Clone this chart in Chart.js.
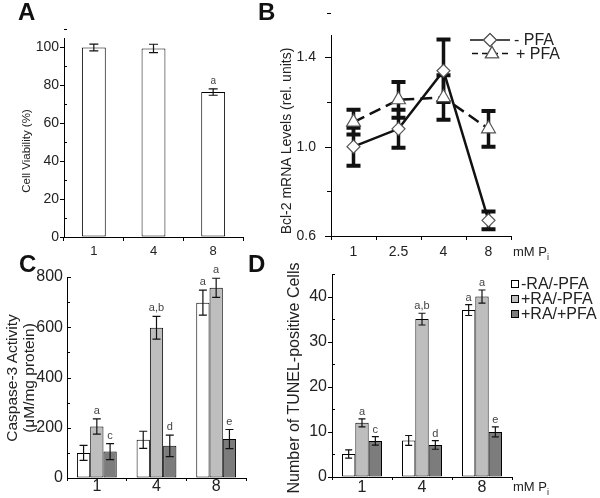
<!DOCTYPE html>
<html>
<head>
<meta charset="utf-8">
<script src="https://cdn.jsdelivr.net/npm/chart.js@4.4.1/dist/chart.umd.min.js"></script>
<style>
  html, body { margin: 0; padding: 0; background: #fff; }
  #wrap { position: relative; width: 600px; height: 498px; overflow: hidden; font-family: "Liberation Sans", Arial, sans-serif; color: #222; }
  canvas { position: absolute; left: 0; top: 0; }
  .t { position: absolute; white-space: nowrap; line-height: 1; }
  .letter { font-weight: bold; font-size: 24px; color: #111; }
  .ytitle { transform: translate(-50%, -50%) rotate(-90deg); text-align: center; }
  .box { display: inline-block; width: 6px; height: 6px; border: 1px solid #000; margin-right: 2px; vertical-align: 1px; }
</style>
</head>
<body>
<div id="wrap">
  <canvas id="cA" width="600" height="498"></canvas>
  <canvas id="cB" width="600" height="498"></canvas>
  <canvas id="cC" width="600" height="498"></canvas>
  <canvas id="cD" width="600" height="498"></canvas>

  <div class="t letter" style="left:18px;top:0px;">A</div>
  <div class="t letter" style="left:258px;top:0px;">B</div>
  <div class="t letter" style="left:19px;top:252px;">C</div>
  <div class="t letter" style="left:248px;top:252px;">D</div>

  <div class="t ytitle" style="left:27px;top:151px;font-size:11.5px;">Cell Viability (%)</div>
  <div class="t ytitle" style="left:286px;top:141px;font-size:14px;">Bcl-2 mRNA Levels (rel. units)</div>
  <div class="t ytitle" style="left:20px;top:378px;font-size:15.5px;line-height:17px;">Caspase-3 Activity<br>(μM/mg protein)</div>
  <div class="t ytitle" style="left:294px;top:378px;font-size:16px;">Number of TUNEL-positive Cells</div>

  <div class="t" style="left:513px;top:245px;font-size:13px;">mM P<span style="font-size:9px;position:relative;top:4px;">i</span></div>
  <div class="t" style="left:513px;top:480px;font-size:13px;">mM P<span style="font-size:9px;position:relative;top:4px;">i</span></div>

  <div class="t" style="left:514px;top:32px;font-size:16px;">- PFA</div>
  <div class="t" style="left:516px;top:46px;font-size:16px;">+ PFA</div>

  <div class="t" style="left:511px;top:276px;font-size:16px;"><span class="box" style="background:#fff"></span>-RA/-PFA</div>
  <div class="t" style="left:511px;top:291px;font-size:16px;"><span class="box" style="background:#bebebe"></span>+RA/-PFA</div>
  <div class="t" style="left:511px;top:306px;font-size:16px;"><span class="box" style="background:#7c7c7c"></span>+RA/+PFA</div>
</div>
<script>
// ---------------- DATA ----------------
// Panel A: cell viability
const aCategories = ['1', '4', '8'];
const aViability = [100, 99.5, 76.5];
const aViabilityErr = [1.8, 2.2, 1.7];
const aLetters = ['', '', 'a'];

// Panel B: Bcl-2 mRNA levels
const bCategories = ['1', '2.5', '4', '8'];
const bMinusPFA = [1.00, 1.08, 1.34, 0.67];
const bMinusPFAErr = [0.085, 0.085, 0.14, 0.04];
const bPlusPFA = [1.11, 1.21, 1.22, 1.08];
const bPlusPFAErr = [0.055, 0.08, 0.10, 0.08];
const bSeriesNames = ['- PFA', '+ PFA'];
const bTickLabels = ['0.6', '', '1.0', '', '1.4'];

// Panel C: caspase-3 activity
const cCategories = ['1', '4', '8'];
const cSeriesNames = ['-RA/-PFA', '+RA/-PFA', '+RA/+PFA'];
const cNoRANoPFA = [100, 152, 698];
const cNoRANoPFAErr = [30, 34, 50];
const cRANoPFA = [205, 598, 757];
const cRANoPFAErr = [30, 45, 38];
const cRAPFA = [105, 128, 155];
const cRAPFAErr = [32, 43, 38];
const cLettersNoRANoPFA = ['', '', 'a'];
const cLettersRANoPFA = ['a', 'a,b', 'a'];
const cLettersRAPFA = ['c', 'd', 'e'];

// Panel D: TUNEL-positive cells
const dCategories = ['1', '4', '8'];
const dNoRANoPFA = [5.1, 8.1, 37];
const dNoRANoPFAErr = [0.9, 1.1, 1.2];
const dRANoPFA = [12, 35, 40];
const dRANoPFAErr = [0.9, 1.3, 1.45];
const dRAPFA = [8, 7.1, 10];
const dRAPFAErr = [0.95, 0.95, 1.1];
const dLettersNoRANoPFA = ['', '', 'a'];
const dLettersRANoPFA = ['a', 'a,b', 'a'];
const dLettersRAPFA = ['c', 'd', 'e'];

// ---------------- STYLE ----------------
Chart.defaults.font.family = '"Liberation Sans", Arial, sans-serif';
Chart.defaults.color = '#222';
const WHITE = '#ffffff', LIGHT = '#bebebe', DARK = '#7c7c7c';

function drawErrorBars(chart, o) {
  const ctx = chart.ctx, ys = chart.scales.y;
  chart.data.datasets.forEach((ds, i) => {
    if (!ds.errors) return;
    const meta = chart.getDatasetMeta(i);
    meta.data.forEach((el, j) => {
      const v = ds.data[j], e = ds.errors[j];
      const x = el.x;
      const yT = ys.getPixelForValue(v + e), yB = ys.getPixelForValue(v - e);
      ctx.save();
      ctx.strokeStyle = o.color || '#111';
      ctx.lineWidth = o.width || 1.2;
      ctx.beginPath(); ctx.moveTo(x, yT); ctx.lineTo(x, yB); ctx.stroke();
      ctx.lineWidth = o.capWidth || o.width || 1.2;
      ctx.beginPath();
      ctx.moveTo(x - o.cap, yT); ctx.lineTo(x + o.cap, yT);
      ctx.moveTo(x - o.cap, yB); ctx.lineTo(x + o.cap, yB);
      ctx.stroke();
      if (ds.letters && ds.letters[j]) {
        ctx.fillStyle = '#444';
        ctx.font = (o.letterSize || 11) + 'px "Liberation Sans", Arial, sans-serif';
        ctx.textAlign = 'center'; ctx.textBaseline = 'middle';
        ctx.fillText(ds.letters[j], x, yT - (o.letterGap || 8));
      }
      ctx.restore();
    });
  });
}
const errorBars = {
  id: 'errorBars',
  beforeDatasetsDraw(chart, a, o) { if (o.before) drawErrorBars(chart, o); },
  afterDatasetsDraw(chart, a, o) { if (!o.before) drawErrorBars(chart, o); }
};
const axisTicks = {
  id: 'axisTicks',
  afterDraw(chart, a, o) {
    const ys = chart.scales.y, ctx = chart.ctx, x0 = chart.chartArea.left;
    ctx.save(); ctx.strokeStyle = '#000'; ctx.lineWidth = 1;
    const n = Math.round((ys.max - ys.min) / o.step + 1e-6);
    for (let i = 0; i <= n; i++) {
      const v = ys.min + i * o.step;
      const major = i % o.ratio === 0;
      const len = major ? o.majorLen : o.minorLen;
      const dir = major ? o.majorDir : o.minorDir;
      const y = Math.round(ys.getPixelForValue(v)) + 0.5;
      ctx.beginPath();
      if (dir === 'out') { ctx.moveTo(x0 - len, y); ctx.lineTo(x0, y); }
      else { ctx.moveTo(x0, y); ctx.lineTo(x0 + len, y); }
      ctx.stroke();
    }
    ctx.restore();
  }
};
const legendB = {
  id: 'legendB',
  afterDraw(chart) {
    const ctx = chart.ctx;
    ctx.save();
    ctx.strokeStyle = '#111'; ctx.lineWidth = 1.5;
    ctx.beginPath(); ctx.moveTo(470, 40); ctx.lineTo(510, 40); ctx.stroke();
    ctx.setLineDash([6, 4]);
    ctx.beginPath(); ctx.moveTo(472, 53.5); ctx.lineTo(512, 53.5); ctx.stroke();
    ctx.setLineDash([]);
    ctx.fillStyle = '#fff'; ctx.strokeStyle = '#555'; ctx.lineWidth = 1.2;
    Chart.helpers.drawPoint(ctx, {pointStyle: 'rectRot', radius: 6.5, borderWidth: 1.2}, 490, 40);
    ctx.fill(); ctx.stroke();
    Chart.helpers.drawPoint(ctx, {pointStyle: 'triangle', radius: 7.5, borderWidth: 1.2}, 492, 54);
    ctx.fill(); ctx.stroke();
    ctx.restore();
  }
};

function baseOpts(pad, yW, xH, yMin, yMax, yStep, yFont, yPad, xFont, xTick, xPad, tickCfg, ebCfg, yCallback) {
  const yTicks = { stepSize: yStep, includeBounds: false, color: '#222', font: yFont, padding: yPad };
  if (yCallback) yTicks.callback = yCallback;
  return {
    responsive: false, animation: false, devicePixelRatio: 1,
    events: [],
    layout: { padding: pad },
    plugins: { legend: { display: false }, tooltip: { enabled: false }, errorBars: ebCfg, axisTicks: tickCfg },
    scales: {
      x: {
        offset: true,
        grid: { display: true, drawOnChartArea: false, offset: true, tickLength: xTick, color: '#000' },
        border: { color: '#000', width: 1 },
        ticks: { color: '#222', font: xFont, padding: xPad, maxRotation: 0 },
        afterFit: s => { s.height = xH; }
      },
      y: {
        min: yMin, max: yMax,
        grid: { display: true, drawOnChartArea: false, drawTicks: false },
        border: { color: '#000', width: 1 },
        ticks: yTicks,
        afterFit: s => { s.width = yW; }
      }
    }
  };
}

// ---------------- PANEL A ----------------
new Chart(document.getElementById('cA'), {
  type: 'bar',
  data: {
    labels: aCategories,
    datasets: [{ data: aViability, errors: aViabilityErr, letters: aLetters,
      backgroundColor: WHITE, borderColor: '#000', borderWidth: 1, borderSkipped: false,
      categoryPercentage: 1, barPercentage: 0.4 }]
  },
  options: baseOpts({ left: 19, top: 38, right: 357, bottom: 241 }, 45, 20, 0, 105, 20,
    { size: 14 }, 5, { size: 13 }, 4, 3,
    { step: 10, ratio: 2, majorLen: 4, minorLen: 3, majorDir: 'out', minorDir: 'in' },
    { cap: 4.5, width: 1.2, letterGap: 8, letterSize: 10 }),
  plugins: [errorBars, axisTicks]
});

// ---------------- PANEL B ----------------
new Chart(document.getElementById('cB'), {
  type: 'line',
  data: {
    labels: bCategories,
    datasets: [
      { label: bSeriesNames[0], data: bMinusPFA, errors: bMinusPFAErr,
        borderColor: '#111', borderWidth: 2.5, tension: 0,
        pointStyle: 'rectRot', pointRadius: 6.5, pointBackgroundColor: '#fff',
        pointBorderColor: '#555', pointBorderWidth: 1.2 },
      { label: bSeriesNames[1], data: bPlusPFA, errors: bPlusPFAErr,
        borderColor: '#111', borderWidth: 2.5, borderDash: [12, 6], tension: 0,
        pointStyle: 'triangle', pointRadius: 8, pointBackgroundColor: '#fff',
        pointBorderColor: '#555', pointBorderWidth: 1.2 }
    ]
  },
  options: baseOpts({ left: 291, top: 35, right: 89, bottom: 242 }, 40, 20, 0.6, 1.5, 0.2,
    { size: 14 }, 15, { size: 14 }, 4, 3.6,
    { step: 0.2, ratio: 2, majorLen: 6, minorLen: 4, majorDir: 'out', minorDir: 'out' },
    { before: true, cap: 7, width: 3.5, capWidth: 4 },
    (value, index) => bTickLabels[index] !== undefined ? bTickLabels[index] : ''),
  plugins: [errorBars, axisTicks, legendB]
});

// ---------------- PANEL C ----------------
new Chart(document.getElementById('cC'), {
  type: 'bar',
  data: {
    labels: cCategories,
    datasets: [
      { label: cSeriesNames[0], data: cNoRANoPFA, errors: cNoRANoPFAErr, letters: cLettersNoRANoPFA, backgroundColor: WHITE },
      { label: cSeriesNames[1], data: cRANoPFA, errors: cRANoPFAErr, letters: cLettersRANoPFA, backgroundColor: LIGHT },
      { label: cSeriesNames[2], data: cRAPFA, errors: cRAPFAErr, letters: cLettersRAPFA, backgroundColor: DARK }
    ].map(d => Object.assign(d, { borderColor: '#000', borderWidth: 1, borderSkipped: false, categoryPercentage: 0.667, barPercentage: 1 }))
  },
  options: baseOpts({ left: 22, top: 277, right: 354, bottom: 0 }, 45, 20, 0, 800, 200,
    { size: 16 }, 4, { size: 16, lineHeight: 1 }, 3, -2,
    { step: 100, ratio: 2, majorLen: 4, minorLen: 3, majorDir: 'in', minorDir: 'in' },
    { cap: 4, width: 1.2, letterGap: 8, letterSize: 11 }),
  plugins: [errorBars, axisTicks]
});

// ---------------- PANEL D ----------------
new Chart(document.getElementById('cD'), {
  type: 'bar',
  data: {
    labels: dCategories,
    datasets: [
      { label: cSeriesNames[0], data: dNoRANoPFA, errors: dNoRANoPFAErr, letters: dLettersNoRANoPFA, backgroundColor: WHITE },
      { label: cSeriesNames[1], data: dRANoPFA, errors: dRANoPFAErr, letters: dLettersRANoPFA, backgroundColor: LIGHT },
      { label: cSeriesNames[2], data: dRAPFA, errors: dRAPFAErr, letters: dLettersRAPFA, backgroundColor: DARK }
    ].map(d => Object.assign(d, { borderColor: '#000', borderWidth: 1, borderSkipped: false, categoryPercentage: 0.667, barPercentage: 1 }))
  },
  options: baseOpts({ left: 292, top: 274, right: 88, bottom: 1 }, 40, 20, 0, 45, 10,
    { size: 16 }, 5, { size: 16, lineHeight: 1 }, 3, 0,
    { step: 5, ratio: 2, majorLen: 4, minorLen: 3, majorDir: 'out', minorDir: 'in' },
    { cap: 3.5, width: 1.2, letterGap: 7, letterSize: 11 }),
  plugins: [errorBars, axisTicks]
});
</script>
</body>
</html>
